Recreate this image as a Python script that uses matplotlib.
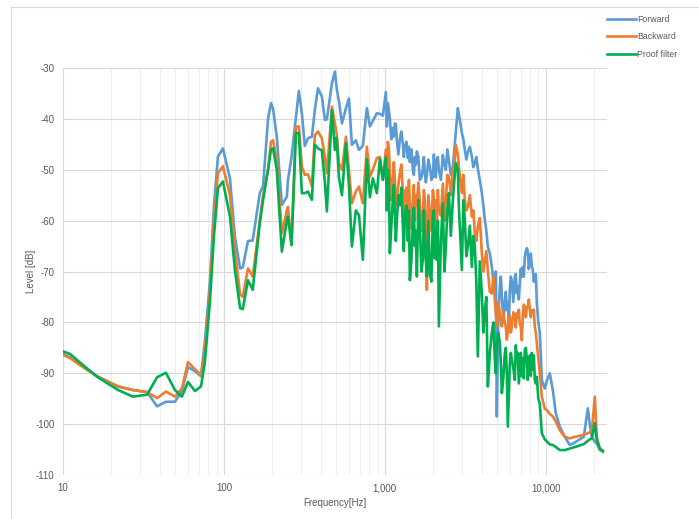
import matplotlib
matplotlib.use("Agg")
import matplotlib.pyplot as plt
from matplotlib.lines import Line2D
from matplotlib.ticker import FixedLocator, NullFormatter

plt.rcParams['font.family'] = ['Liberation Sans', 'DejaVu Sans']
plt.rcParams['axes.unicode_minus'] = False

# frequency grid [Hz] and levels [dB]
freq = [10, 11.05, 12.75, 16.3, 22, 27.2, 33.3, 38.4, 43.6, 49.6,
        54.8, 59.8, 66.1, 72, 76, 81.8, 86.7, 91.8, 98.6, 109,
        117, 126, 131, 141, 151, 167, 175, 188, 196, 202,
        213, 229, 246, 250, 263, 280, 292, 305, 318, 333,
        352, 367, 384, 406, 424, 436, 469, 489, 502, 518,
        541, 573, 598, 624, 660, 690, 730, 773, 807, 842,
        892, 931, 972, 1014, 1044, 1074, 1121, 1154, 1187, 1239,
        1294, 1331, 1390, 1430, 1493, 1536, 1581, 1650, 1722, 1772,
        1824, 1904, 1987, 2045, 2104, 2165, 2292, 2393, 2498, 2645,
        2761, 2841, 2882, 3009, 3140, 3278, 3471, 3622, 3781, 4004,
        4180, 4363, 4620, 4823, 4962, 5180, 5331, 5564, 5726, 5808,
        5976, 6150, 6418, 6605, 6700, 6894, 7094, 7197, 7406, 7621,
        7730, 7955, 8185, 8304, 8545, 8793, 9178, 9445, 9858, 10144,
        10588, 11053, 11537, 12218, 13122, 14094, 15137, 16262, 17219, 18239,
        18764, 19307, 20155, 20740, 21649, 22594]

forward = [-86.2, -86.9, -88.3, -90.6, -92.6, -93.3, -93.7, -96.5, -95.6, -95.6,
           -93.5, -88.8, -89.6, -90.6, -84, -72, -57, -47.4, -45.8, -51.7,
           -63.2, -69.4, -69.2, -64.0, -63.9, -54.6, -53.2, -40, -36.9, -38,
           -43.5, -56.9, -55.3, -52, -47.5, -39.6, -34.5, -38.9, -45.3, -43.8,
           -43.5, -38.3, -34.0, -35.6, -40.2, -40.1, -33.0, -30.7, -34, -36.5,
           -40.9, -37.9, -36.0, -45.1, -44.2, -46.1, -45.3, -37.9, -41.5, -40.4,
           -38.9, -39.0, -39.4, -34.7, -36.9, -40, -41.8, -40.9, -44.2, -44.0,
           -45.0, -45.5, -47.7, -48.5, -50.0, -47.5, -46.4, -52.0, -49.8, -50.9,
           -51.0, -49.4, -51.4, -50, -48.1, -50.0, -47.1, -50.0, -48.1, -49.4,
           -42.8, -37.9, -39, -42.8, -46.1, -46.5, -47.4, -48.7, -49.8, -54.6,
           -59.9, -65.1, -69.1, -74.3, -98.5, -73.0, -74.7, -76, -77.6, -76,
           -73.6, -72, -71, -74.3, -73, -72.3, -71, -69.1, -67.1, -65.4,
           -66, -67.9, -69, -69.6, -71, -76.2, -82, -91.3, -93, -91.5,
           -90.0, -93.3, -97.9, -100.5, -102.5, -104.1, -103.6, -103, -102.5, -96.9,
           -100, -102.5, -103.5, -103.8, -105.1, -105.2]

backward = [-86.4, -87.0, -88.4, -90.6, -92.6, -93.3, -93.7, -94.9, -93.6, -94.6,
            -93.0, -87.8, -89.2, -90.4, -86, -74, -60, -50.7, -49.3, -55,
            -65.8, -74.5, -75.0, -69.4, -71.0, -59.9, -55, -50.0, -44.5, -44.2,
            -48.1, -62.5, -58, -57.3, -64.8, -41.5, -41.5, -49.4, -51.0, -50.9,
            -53.3, -43.2, -42.5, -43.8, -47.4, -50.7, -37.6, -40.9, -43, -48.7,
            -50.0, -43.5, -50.0, -56.6, -54.3, -53.3, -56.6, -45.5, -51.4, -50.0,
            -47.7, -47.5, -52, -46.1, -44.5, -50.0, -52.0, -52.0, -55.9, -50.7,
            -54.6, -54.6, -59.9, -57, -55.9, -59.9, -57.0, -56.6, -59.2, -55.9,
            -73.6, -58.6, -54.0, -65.1, -61.2, -58.0, -52.7, -55.9, -51.4, -50.0,
            -45.1, -47, -49.4, -54.6, -55.9, -57.3, -59.2, -62.5, -61.2, -66.4,
            -68, -69.8, -74.3, -75.6, -80.8, -78.2, -80.8, -80, -83.4, -82,
            -78.8, -80.8, -79, -78.2, -79, -80.2, -83.5, -79, -77.6, -77.0,
            -76.9, -77.6, -77.6, -78, -80.9, -84.1, -90, -94.6, -97, -97.2,
            -98, -98.5, -99.5, -101.2, -102.5, -102.8, -102.5, -102.3, -102.1, -101.8,
            -101.6, -101.5, -94.6, -102.5, -104.8, -105.2]

proof = [-85.7, -86.2, -87.9, -90.7, -93.3, -94.6, -94.2, -90.8, -89.9, -93.3,
         -94.6, -91.7, -93.5, -92.6, -88, -76, -63, -53.6, -52.3, -59.2,
         -69.7, -77.2, -77.4, -71.7, -73.6, -60.5, -56, -50.0, -46, -45.8,
         -50.0, -66.1, -60, -59.2, -64.8, -42.8, -42.8, -54.6, -54.6, -54.3,
         -55.9, -45.1, -45.8, -46.2, -52.5, -58.2, -38.3, -46.1, -43.7, -51.5,
         -55.0, -44.8, -53.1, -65.1, -58.0, -58.9, -67.7, -47.9, -55.4, -51.7,
         -54.6, -47.9, -52.0, -47.6, -50, -66.4, -55.9, -59, -59.9, -57.0,
         -61.0, -58.9, -64, -71.7, -59.9, -65, -71.0, -61.0, -67.7, -63.9,
         -71.0, -70.4, -59.2, -67.4, -67.7, -80.8, -56.6, -65.1, -54.6, -55.9,
         -48.7, -50, -57.3, -69.7, -59.9, -65.1, -69.1, -65.1, -86.7, -74.3,
         -77.5, -92.6, -82.1, -87.3, -84.1, -84, -93.9, -86.0, -90, -100.5,
         -88, -87.3, -91.3, -87, -86.0, -89, -90.6, -87, -85.4, -87,
         -91.3, -86.5, -86.0, -89.3, -91.3, -90.7, -96, -101.8, -103, -103.4,
         -104, -104.1, -104.5, -105.1, -105.1, -104.8, -104.5, -104.2, -103.9, -103.3,
         -103, -102.8, -99.8, -103.2, -104.8, -105.4]

# extra in-between readings for the dense 1 kHz - 9 kHz part
freq_extra = [1029, 1059, 1097, 1137, 1170, 1213, 1266, 1312, 1360, 1410,
              1461, 1514, 1558, 1615, 1686, 1747, 1798, 1863, 1945, 2016,
              2074, 2134, 2228, 2342, 2445, 2570, 2702, 3074, 3208, 3373,
              3546, 3700, 3890, 4091, 4270, 4490, 4720, 4890, 5070, 5255,
              5446, 5645, 5890, 6062, 6283, 6510, 6796, 6993, 7300, 7513,
              7841, 8070, 8424, 8668, 8985]
forward_extra = [-41.5, -38.5, -44, -43.5, -41, -47, -42.5, -47.5, -44.5, -45.5,
                 -46, -51, -49, -47.5, -51.5, -47.5, -52.5, -48, -52, -47,
                 -51.5, -47.5, -52, -49, -46, -51, -46, -44, -48, -45.5,
                 -49.5, -47.5, -52, -57, -62, -66.5, -72, -70, -79, -71,
                 -80, -74, -80.5, -71, -76, -70.5, -75.5, -69.5, -71, -66,
                 -69.5, -66.5, -72, -70.5, -80]
backward_extra = [-50.5, -46, -56, -48.5, -57, -53, -49, -58, -53.5, -52,
                  -61.5, -53, -55, -52.5, -62, -54, -61, -55, -62, -55.5,
                  -56, -54, -59, -60, -51, -55, -49, -51, -58, -55,
                  -58, -64, -59.5, -70, -66, -74, -71, -78, -76, -80,
                  -78, -81, -79, -82, -78, -81, -77.5, -81, -76.5, -79,
                  -75.5, -79, -77.5, -82, -87]
proof_extra = [-58, -52, -61, -53, -64, -55, -53.5, -66, -57, -58,
               -68, -57.5, -62, -56, -70, -58, -68, -60, -72, -58,
               -62, -60, -64, -70, -58, -63, -52, -56, -67, -61,
               -63, -72, -68, -82, -75, -86, -80, -90, -82, -88,
               -91, -85, -94, -86, -89, -84.5, -92, -86, -91, -85,
               -88, -90.5, -86.5, -92, -95]

series = [("Forward", forward, forward_extra, "#5B9BD5"),
          ("Backward", backward, backward_extra, "#ED7D31"),
          ("Proof filter", proof, proof_extra, "#00B050")]

fig = plt.figure(figsize=(6.99, 5.19), dpi=100)
ax = fig.add_axes([63/699, 1-475/519, (607-63)/699, (475-68)/519])

for name, vals, extra, col in series:
    pts = sorted(zip(freq + freq_extra, vals + extra))
    ax.plot([p[0] for p in pts], [p[1] for p in pts], color=col, lw=1.9,
            label=name, solid_joinstyle='round')

ax.set_xscale('log')
ax.set_xlim(10, 24000)
ax.set_ylim(-110, -30)
ax.set_yticks(range(-110, -29, 10))
ax.xaxis.set_major_locator(FixedLocator([10, 100, 1000, 10000]))
ax.set_xticklabels(["10", "100", "1,000", "10,000"])
minor = [m * d for d in (10, 100, 1000, 10000) for m in range(2, 10) if m * d < 24000]
ax.xaxis.set_minor_locator(FixedLocator(minor))
ax.xaxis.set_minor_formatter(NullFormatter())

ax.grid(True, which='major', color='#d9d9d9', lw=0.8)
ax.grid(True, which='minor', axis='x', color='#eeeeee', lw=0.7)
ax.set_axisbelow(True)
for s in ax.spines.values():
    s.set_visible(False)
ax.tick_params(which='both', length=0, labelsize=7, colors='#595959', pad=6)

ax.set_xlabel("Frequency[Hz]", fontsize=7, color='#595959', labelpad=3)
ax.set_ylabel("Level [dB]", fontsize=7, color='#595959')
ax.yaxis.set_label_coords(-0.049, 0.5)

leg = ax.legend(loc='upper left', bbox_to_anchor=(607/699, 1-15/519),
                bbox_transform=fig.transFigure, frameon=False, fontsize=6.3,
                handlelength=3.3, handletextpad=0.15, labelspacing=0.95,
                borderaxespad=0, borderpad=0)
for t in leg.get_texts():
    t.set_color('#595959')

# chart area border (left and top edges visible)
fig.add_artist(Line2D([11/699, 11/699], [0, 1-7/519], transform=fig.transFigure,
                      color='#d9d9d9', lw=0.8))
fig.add_artist(Line2D([11/699, 1], [1-7/519, 1-7/519], transform=fig.transFigure,
                      color='#d9d9d9', lw=0.8))

fig.savefig("out.png", dpi=100)
